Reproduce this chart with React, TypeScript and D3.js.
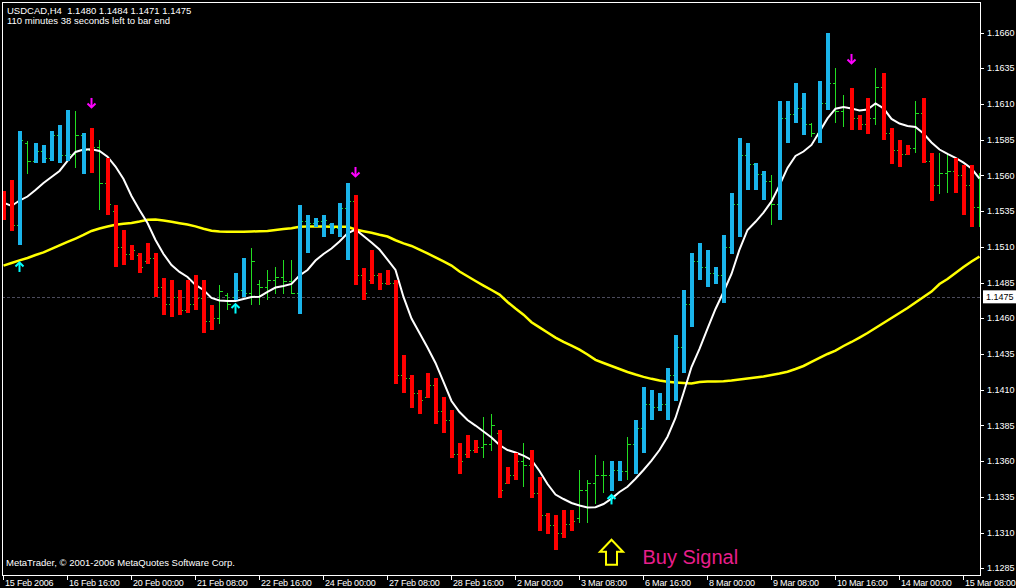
import React from "react";
import * as d3 from "d3";

// ---- data (USDCAD H4, 123 bars) ----
const highs = [
  1.1549, 1.1557, 1.1591, 1.1584, 1.1583, 1.1581, 1.1591, 1.1595, 1.1606, 1.1605,
  1.1590, 1.1593, 1.1585, 1.1572, 1.1539, 1.1522, 1.1511, 1.1506, 1.1513, 1.1506,
  1.1488, 1.1487, 1.1480, 1.1487, 1.1490, 1.1487, 1.1469, 1.1483, 1.1478, 1.1492,
  1.1502, 1.1509, 1.1487, 1.1494, 1.1496, 1.1501, 1.1501, 1.1539, 1.1532, 1.1530,
  1.1532, 1.1527, 1.1541, 1.1555, 1.1546, 1.1495, 1.1508, 1.1492, 1.1494, 1.1487,
  1.1434, 1.1420, 1.1410, 1.1422, 1.1418, 1.1405, 1.1396, 1.1373, 1.1378, 1.1375,
  1.1391, 1.1393, 1.1382, 1.1356, 1.1366, 1.1373, 1.1368, 1.1349, 1.1324, 1.1322,
  1.1326, 1.1326, 1.1354, 1.1347, 1.1364, 1.1360, 1.1360, 1.1360, 1.1377, 1.1389,
  1.1412, 1.1410, 1.1408, 1.1425, 1.1448, 1.1480, 1.1506, 1.1513, 1.1508, 1.1496,
  1.1518, 1.1548, 1.1586, 1.1583, 1.1569, 1.1563, 1.1560, 1.1612, 1.1612, 1.1625,
  1.1618, 1.1597, 1.1626, 1.1660, 1.1635, 1.1616, 1.1621, 1.1602, 1.1614, 1.1635,
  1.1632, 1.1593, 1.1585, 1.1581, 1.1612, 1.1614, 1.1576, 1.1576, 1.1575, 1.1572,
  1.1567, 1.1567, 1.1562,
];
const lows = [
  1.1529, 1.1521, 1.1511, 1.1561, 1.1569, 1.1569, 1.1570, 1.1569, 1.1570, 1.1565,
  1.1561, 1.1562, 1.1536, 1.1532, 1.1496, 1.1497, 1.1501, 1.1492, 1.1498, 1.1475,
  1.1462, 1.1461, 1.1462, 1.1464, 1.1466, 1.1450, 1.1452, 1.1456, 1.1466, 1.1473,
  1.1475, 1.1469, 1.1469, 1.1473, 1.1477, 1.1477, 1.1477, 1.1463, 1.1506, 1.1524,
  1.1517, 1.1519, 1.1517, 1.1501, 1.1483, 1.1473, 1.1484, 1.1480, 1.1483, 1.1414,
  1.1408, 1.1397, 1.1393, 1.1404, 1.1386, 1.1380, 1.1362, 1.1351, 1.1362, 1.1366,
  1.1362, 1.1367, 1.1334, 1.1344, 1.1347, 1.1342, 1.1334, 1.1311, 1.1309, 1.1298,
  1.1306, 1.1311, 1.1317, 1.1317, 1.1330, 1.1338, 1.1339, 1.1346, 1.1347, 1.1351,
  1.1366, 1.1389, 1.1395, 1.1389, 1.1402, 1.1422, 1.1454, 1.1487, 1.1482, 1.1484,
  1.1471, 1.1505, 1.1517, 1.1550, 1.1550, 1.1543, 1.1525, 1.1529, 1.1583, 1.1597,
  1.1588, 1.1587, 1.1583, 1.1606, 1.1597, 1.1594, 1.1592, 1.1592, 1.1589, 1.1595,
  1.1585, 1.1568, 1.1566, 1.1574, 1.1576, 1.1569, 1.1542, 1.1547, 1.1548, 1.1548,
  1.1532, 1.1524, 1.1524,
];
const opens = [
  1.1545, 1.1540, 1.1525, 1.1583, 1.1570, 1.1577, 1.1572, 1.1588, 1.1574, 1.1575,
  1.1588, 1.1578, 1.1580, 1.1555, 1.1535, 1.1510, 1.1505, 1.1504, 1.1500, 1.1502,
  1.1482, 1.1470, 1.1475, 1.1466, 1.1470, 1.1474, 1.1458, 1.1460, 1.1476, 1.1475,
  1.1480, 1.1478, 1.1484, 1.1482, 1.1487, 1.1489, 1.1486, 1.1478, 1.1528, 1.1527,
  1.1528, 1.1526, 1.1523, 1.1537, 1.1542, 1.1490, 1.1487, 1.1490, 1.1485, 1.1485,
  1.1420, 1.1418, 1.1408, 1.1405, 1.1413, 1.1395, 1.1389, 1.1365, 1.1365, 1.1368,
  1.1370, 1.1372, 1.1380, 1.1345, 1.1350, 1.1360, 1.1357, 1.1338, 1.1322, 1.1315,
  1.1310, 1.1316, 1.1320, 1.1340, 1.1345, 1.1350, 1.1350, 1.1354, 1.1353, 1.1372,
  1.1383, 1.1400, 1.1398, 1.1400, 1.1420, 1.1440, 1.1470, 1.1500, 1.1496, 1.1492,
  1.1490, 1.1510, 1.1540, 1.1574, 1.1568, 1.1561, 1.1556, 1.1540, 1.1600, 1.1603,
  1.1607, 1.1596, 1.1590, 1.1611, 1.1625, 1.1605, 1.1608, 1.1600, 1.1596, 1.1600,
  1.1622, 1.1590, 1.1578, 1.1575, 1.1579, 1.1604, 1.1570, 1.1553, 1.1562, 1.1563,
  1.1560, 1.1553, 1.1538,
];
const closes = [
  1.1540, 1.1525, 1.1585, 1.1570, 1.1577, 1.1572, 1.1588, 1.1574, 1.1575, 1.1588,
  1.1578, 1.1580, 1.1555, 1.1540, 1.1510, 1.1505, 1.1508, 1.1496, 1.1502, 1.1482,
  1.1470, 1.1475, 1.1466, 1.1470, 1.1474, 1.1458, 1.1460, 1.1479, 1.1470, 1.1480,
  1.1478, 1.1500, 1.1482, 1.1487, 1.1489, 1.1486, 1.1478, 1.1528, 1.1527, 1.1528,
  1.1529, 1.1523, 1.1537, 1.1542, 1.1490, 1.1478, 1.1490, 1.1485, 1.1485, 1.1420,
  1.1418, 1.1408, 1.1403, 1.1413, 1.1395, 1.1389, 1.1365, 1.1360, 1.1368, 1.1370,
  1.1372, 1.1385, 1.1340, 1.1350, 1.1360, 1.1357, 1.1338, 1.1322, 1.1315, 1.1310,
  1.1316, 1.1318, 1.1340, 1.1345, 1.1350, 1.1350, 1.1354, 1.1353, 1.1372, 1.1383,
  1.1400, 1.1398, 1.1400, 1.1420, 1.1440, 1.1470, 1.1500, 1.1496, 1.1492, 1.1490,
  1.1510, 1.1540, 1.1574, 1.1568, 1.1561, 1.1556, 1.1540, 1.1600, 1.1603, 1.1607,
  1.1596, 1.1590, 1.1611, 1.1625, 1.1605, 1.1608, 1.1600, 1.1596, 1.1600, 1.1622,
  1.1590, 1.1578, 1.1575, 1.1579, 1.1604, 1.1570, 1.1553, 1.1562, 1.1563, 1.1560,
  1.1553, 1.1538, 1.1530,
];
// r = red histogram, b = blue histogram, g = plain bar only
const barColors = (
  "rrbgbbbbbgbrg" + "rrrrrrrrrrrrrr" + "gg" + "bb" + "gggggg" + "bbbbbbb" +
  "rrrrrrrrrrrrrrrr" + "gg" + "rrr" + "g" + "rrrrrr" + "gggg" + "bb" + "g" +
  "bbbbbbbbbbbbbbbbb" + "g" + "bbbb" + "g" + "bb" + "gg" + "rrr" + "g" + "rrrr" +
  "g" + "rr" + "gg" + "rrr" + "g"
).split("");

const fastMA = [
  1.15409, 1.15386, 1.15424, 1.15452, 1.15498, 1.15547, 1.15589, 1.15631, 1.15701, 1.15764,
  1.15781, 1.15782, 1.15771, 1.15731, 1.15662, 1.15575, 1.15456, 1.15358, 1.15267, 1.15148,
  1.15050, 1.14973, 1.14924, 1.14889, 1.14833, 1.14798, 1.14742, 1.14724, 1.14721, 1.14721,
  1.14735, 1.14749, 1.14751, 1.14784, 1.14815, 1.14826, 1.14840, 1.14899, 1.14938, 1.15004,
  1.15050, 1.15088, 1.15137, 1.15194, 1.15221, 1.15176, 1.15130, 1.15081, 1.15011, 1.14938,
  1.14749, 1.14598, 1.14497, 1.14395, 1.14287, 1.14154, 1.14021, 1.13944, 1.13888, 1.13849,
  1.13807, 1.13765, 1.13713, 1.13678, 1.13660, 1.13639, 1.13608, 1.13531, 1.13440, 1.13366,
  1.13335, 1.13307, 1.13289, 1.13276, 1.13277, 1.13300, 1.13338, 1.13384, 1.13421, 1.13477,
  1.13538, 1.13604, 1.13678, 1.13771, 1.13902, 1.14077, 1.14259, 1.14385, 1.14528, 1.14665,
  1.14784, 1.14910, 1.15081, 1.15218, 1.15275, 1.15340, 1.15418, 1.15530, 1.15652, 1.15736,
  1.15767, 1.15813, 1.15906, 1.15999, 1.16067, 1.16079, 1.16068, 1.16054, 1.16061, 1.16103,
  1.16069, 1.15995, 1.15963, 1.15946, 1.15939, 1.15893, 1.15830, 1.15781, 1.15750, 1.15722,
  1.15689, 1.15648, 1.15578,
];
const slowMA = [
  1.14968, 1.14987, 1.15005, 1.15022, 1.15043, 1.15061, 1.15085, 1.15110, 1.15134, 1.15158,
  1.15183, 1.15211, 1.15228, 1.15242, 1.15254, 1.15261, 1.15267, 1.15277, 1.15289, 1.15291,
  1.15284, 1.15275, 1.15265, 1.15256, 1.15243, 1.15227, 1.15213, 1.15207, 1.15206, 1.15206,
  1.15206, 1.15207, 1.15209, 1.15211, 1.15218, 1.15225, 1.15230, 1.15240, 1.15242, 1.15242,
  1.15242, 1.15241, 1.15241, 1.15240, 1.15221, 1.15209, 1.15198, 1.15184, 1.15172, 1.15146,
  1.15124, 1.15106, 1.15081, 1.15054, 1.15026, 1.14998, 1.14969, 1.14927, 1.14894, 1.14861,
  1.14829, 1.14798, 1.14766, 1.14714, 1.14668, 1.14625, 1.14572, 1.14536, 1.14500, 1.14465,
  1.14435, 1.14408, 1.14380, 1.14346, 1.14309, 1.14287, 1.14266, 1.14245, 1.14224, 1.14206,
  1.14190, 1.14176, 1.14164, 1.14156, 1.14151, 1.14147, 1.14144, 1.14154, 1.14157, 1.14158,
  1.14160, 1.14164, 1.14171, 1.14178, 1.14185, 1.14192, 1.14203, 1.14213, 1.14226, 1.14245,
  1.14266, 1.14294, 1.14322, 1.14350, 1.14374, 1.14406, 1.14434, 1.14465, 1.14497, 1.14532,
  1.14567, 1.14602, 1.14637, 1.14672, 1.14710, 1.14749, 1.14787, 1.14840, 1.14875, 1.14917,
  1.14959, 1.14997, 1.15032,
];

const upArrowBars = [2, 29, 76];
const upArrowPrices = [1.14994, 1.14703, 1.13367];
const downArrowBars = [11, 44, 106];
const downArrowPrices = [1.16072, 1.15589, 1.1638];

const priceTicks = [
  1.166, 1.1635, 1.161, 1.1585, 1.156, 1.1535, 1.151, 1.1485, 1.146, 1.1435, 1.141,
  1.1385, 1.136, 1.1335, 1.131, 1.1285,
];
const dateTickBars = [0, 8, 16, 24, 32, 40, 48, 56, 64, 72, 80, 88, 96, 104, 112, 120];
const dateTickLabels = [
  "15 Feb 2006", "16 Feb 16:00", "20 Feb 00:00", "21 Feb 08:00", "22 Feb 16:00",
  "24 Feb 00:00", "27 Feb 08:00", "28 Feb 16:00", "2 Mar 00:00", "3 Mar 08:00",
  "6 Mar 16:00", "8 Mar 00:00", "9 Mar 08:00", "10 Mar 16:00", "14 Mar 00:00",
  "15 Mar 08:00",
];
const bidPrice = 1.1475;
const headerLine1 = "USDCAD,H4  1.1480 1.1484 1.1471 1.1475";
const headerLine2 = "110 minutes 38 seconds left to bar end";
const copyright = "MetaTrader, \u00a9 2001-2006 MetaQuotes Software Corp.";
const signalBar = 76;
const signalPrice = 1.1305;
const signalText = "Buy Signal";

const W = 1016;
const H = 588;
const PL = 2, PT = 2, PR = 980, PB = 575;
const FONT = "'Liberation Sans', Arial, sans-serif";

export default function App() {
  const x = d3.scaleLinear().domain([0, 122]).range([3, 979]);
  const y = d3.scaleLinear().domain([1.1285, 1.166]).range([568.3, 32.5]);
  const idx = d3.range(highs.length);
  const cx = (i: number) => x(i) + 0.5;

  const lineGen = (vals: number[]) =>
    d3.line<number>().x((_, i) => cx(i)).y((v) => y(v))(vals) || "";

  const greenCol = "#22dd22";
  const blueCol = "#1ab4ea";
  const redCol = "#ff0000";

  const sx = cx(signalBar);
  const sy = y(signalPrice);

  return (
    <svg
      width={W}
      height={H}
      style={{ position: "absolute", left: 0, top: 0, background: "#000" }}
      fontFamily={FONT}
    >
      <rect x={0} y={0} width={W} height={H} fill="#000" />
      <defs>
        <clipPath id="plot">
          <rect x={PL} y={PT} width={PR - PL} height={PB - PT} />
        </clipPath>
      </defs>

      <g clipPath="url(#plot)">
        {/* bid line */}
        <line
          x1={PL}
          x2={PR}
          y1={Math.round(y(bidPrice)) + 0.5}
          y2={Math.round(y(bidPrice)) + 0.5}
          stroke="#4b4b5c"
          strokeDasharray="3,2"
        />
        {/* OHLC bars */}
        <g stroke={greenCol} strokeWidth={1} shapeRendering="crispEdges">
          {idx.map((i) => (
            <g key={i}>
              <line x1={cx(i)} x2={cx(i)} y1={y(highs[i])} y2={y(lows[i])} />
              <line x1={cx(i) - 3} x2={cx(i)} y1={Math.round(y(opens[i])) + 0.5} y2={Math.round(y(opens[i])) + 0.5} />
              <line x1={cx(i)} x2={cx(i) + 3.5} y1={Math.round(y(closes[i])) + 0.5} y2={Math.round(y(closes[i])) + 0.5} />
            </g>
          ))}
        </g>
        {/* moving averages */}
        <path d={lineGen(slowMA)} fill="none" stroke="#ffff00" strokeWidth={2.5} />
        <path d={lineGen(fastMA)} fill="none" stroke="#ffffff" strokeWidth={2} />
        {/* histogram overlay */}
        <g shapeRendering="crispEdges">
          {idx
            .filter((i) => barColors[i] !== "g")
            .map((i) => (
              <rect
                key={i}
                x={cx(i) - 2}
                width={4}
                y={y(highs[i])}
                height={y(lows[i]) - y(highs[i])}
                fill={barColors[i] === "r" ? redCol : blueCol}
              />
            ))}
        </g>
        {/* signal arrows */}
        {upArrowBars.map((b, k) => {
          const ax = cx(b);
          const ay = y(upArrowPrices[k]);
          return (
            <g key={"u" + k} stroke="#00ffff" strokeWidth={2} fill="none">
              <path d={`M${ax},${ay + 10} V${ay + 1}`} />
              <path d={`M${ax - 4},${ay + 4.5} L${ax},${ay + 0.5} L${ax + 4},${ay + 4.5}`} />
            </g>
          );
        })}
        {downArrowBars.map((b, k) => {
          const ax = cx(b);
          const ay = y(downArrowPrices[k]);
          return (
            <g key={"d" + k} stroke="#ff00ff" strokeWidth={2} fill="none">
              <path d={`M${ax},${ay - 10} V${ay - 1}`} />
              <path d={`M${ax - 4},${ay - 4.5} L${ax},${ay - 0.5} L${ax + 4},${ay - 4.5}`} />
            </g>
          );
        })}
        {/* Buy signal annotation */}
        <path
          d={`M${sx},${sy} L${sx + 11.5},${sy + 12} L${sx + 5.5},${sy + 12} L${sx + 5.5},${sy + 25} L${sx - 5.5},${sy + 25} L${sx - 5.5},${sy + 12} L${sx - 11.5},${sy + 12} Z`}
          fill="none"
          stroke="#ffff00"
          strokeWidth={2}
        />
        <text x={sx + 31} y={sy + 24} fill="#e81e8c" fontSize={20}>
          {signalText}
        </text>
      </g>

      {/* frame */}
      <rect
        x={PL + 0.5}
        y={PT + 0.5}
        width={PR - PL}
        height={PB - PT}
        fill="none"
        stroke="#ffffff"
        strokeWidth={1}
        shapeRendering="crispEdges"
      />

      {/* header & footer texts */}
      <text x={7} y={14} fill="#fff" fontSize={9.5}>{headerLine1.replace("  ", "\u00a0 ")}</text>
      <text x={7} y={24} fill="#fff" fontSize={9.5}>{headerLine2}</text>
      <text x={6} y={566} fill="#fff" fontSize={9.5}>{copyright}</text>

      {/* price axis */}
      <g fill="#fff" fontSize={9}>
        {priceTicks.map((p) => (
          <g key={p}>
            <line x1={PR} x2={PR + 4} y1={Math.round(y(p)) + 0.5} y2={Math.round(y(p)) + 0.5} stroke="#fff" shapeRendering="crispEdges" />
            <text x={987} y={y(p)} dy="0.35em">{p.toFixed(4)}</text>
          </g>
        ))}
        <rect x={983} y={y(bidPrice) - 6.5} width={33} height={13} fill="#fff" />
        <text x={986} y={y(bidPrice)} dy="0.35em" fill="#000">{bidPrice.toFixed(4)}</text>
      </g>

      {/* time axis */}
      <g fill="#fff" fontSize={9} letterSpacing={-0.2}>
        {dateTickBars.map((b, k) => (
          <g key={b}>
            <line x1={cx(b)} x2={cx(b)} y1={PB} y2={PB + 5} stroke="#fff" shapeRendering="crispEdges" />
            <text x={cx(b) + 1.5} y={586}>{dateTickLabels[k]}</text>
          </g>
        ))}
      </g>
    </svg>
  );
}
